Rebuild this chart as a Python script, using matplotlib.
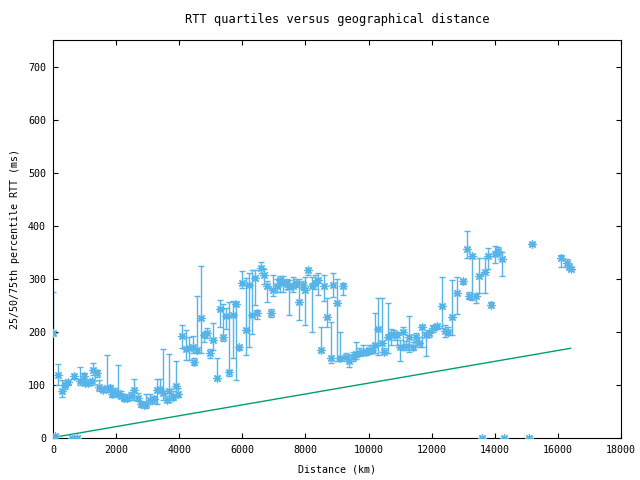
import numpy as np
import matplotlib
matplotlib.use("Agg")
import matplotlib.pyplot as plt

# distance (km), 25th / 50th / 75th percentile RTT (ms)
dist = [0, 60, 170, 275, 380, 485, 590, 675, 770, 855, 990, 1015, 1120, 1225, 1280, 1385,
        1470, 1595, 1700, 1800, 1880, 1965, 2070, 2150, 2250, 2350, 2470, 2570, 2680, 2780,
        2885, 2960, 3075, 3200, 3305, 3390, 3500, 3600, 3690, 3790, 3890, 3975,
        4080, 4215, 4320, 4425, 4480, 4575, 4690, 4800, 4890, 4975, 5080, 5185, 5290, 5400,
        5480, 5590, 5695, 5800, 5905, 5990, 6115, 6200, 6305, 6400, 6475, 6590, 6700, 6790,
        6900, 6985, 7090, 7195, 7300, 7405, 7490, 7595, 7700, 7805, 7915, 7985, 8090, 8200,
        8305, 8410, 8495, 8590, 8695, 8800, 8885, 9010, 9095, 9200, 9285, 9390, 9495, 9600,
        9710, 9815, 9920, 10025, 10110, 10205, 10310, 10415, 10500, 10605, 10700, 10805,
        10910, 11000, 11100, 11185, 11290, 11395, 11500, 11610, 11695, 11820, 11925, 12030,
        12160, 12315, 12420, 12525, 12635, 12815, 13005, 13110, 13195, 13290, 13405, 13510,
        13600, 13690, 13795, 13880, 14005, 14110, 14220, 14290, 15090, 15190, 16100, 16280,
        16350, 16405]
rtt_med = [198, 4, 119, 89, 99, 106, 0, 116, 0, 108, 116, 104, 103, 108, 128, 123,
           96, 90, 94, 94, 83, 87, 85, 80, 75, 75, 79, 90, 76, 64,
           62, 64, 72, 73, 90, 92, 84, 72, 89, 78, 98, 83,
           192, 167, 169, 171, 144, 166, 226, 194, 197, 160, 185, 114, 243, 190,
           230, 125, 232, 253, 171, 292, 204, 289, 232, 301, 236, 320, 308, 287,
           236, 278, 286, 298, 293, 292, 284, 287, 292, 257, 289, 278, 316, 287,
           293, 297, 166, 287, 228, 150, 289, 254, 150, 286, 152, 146, 153, 158,
           161, 163, 163, 165, 166, 175, 205, 179, 163, 190, 196, 194,
           194, 172, 200, 174, 191, 172, 191, 179, 209, 194, 197, 207,
           211, 249, 202, 200, 228, 273, 295, 356, 267, 343, 267, 306,
           0, 312, 343, 251, 347, 353, 337, 0, 0, 366, 339, 330,
           323, 319]
rtt_lo = [195, 2, 99, 77, 93, 100, 0, 112, 0, 100, 100, 100, 100, 100, 119, 115,
          89, 86, 87, 88, 77, 80, 77, 75, 70, 70, 72, 72, 70, 59,
          58, 57, 64, 66, 64, 85, 72, 67, 67, 72, 78, 78,
          170, 147, 147, 160, 138, 160, 160, 180, 188, 150, 165, 109, 210, 182,
          205, 117, 150, 109, 165, 282, 157, 172, 196, 251, 224, 311, 290, 256,
          228, 267, 275, 275, 275, 280, 232, 275, 285, 223, 280, 213, 308, 200,
          280, 270, 163, 258, 210, 141, 265, 145, 145, 270, 145, 133, 145, 148,
          155, 156, 157, 158, 160, 160, 157, 162, 158, 160, 175, 185,
          175, 145, 165, 165, 163, 165, 183, 172, 172, 155, 190, 200,
          205, 207, 190, 195, 194, 234, 290, 339, 262, 260, 255, 273,
          0, 273, 319, 247, 329, 345, 306, 0, 0, 363, 323, 322,
          318, 316]
rtt_hi = [275, 6, 140, 109, 105, 110, 0, 120, 0, 134, 123, 108, 108, 110, 141, 128,
          109, 96, 157, 100, 94, 95, 138, 88, 82, 80, 86, 111, 84, 70,
          67, 83, 82, 80, 111, 111, 168, 80, 158, 88, 145, 95,
          213, 204, 190, 193, 150, 267, 324, 200, 208, 168, 217, 151, 260, 253,
          245, 257, 259, 257, 176, 314, 302, 311, 317, 317, 241, 331, 318, 295,
          244, 308, 300, 305, 305, 300, 298, 304, 300, 300, 296, 304, 320, 304,
          308, 310, 209, 308, 263, 219, 310, 300, 200, 293, 160, 157, 162, 180,
          170, 175, 168, 175, 175, 235, 264, 264, 170, 255, 205, 203,
          200, 185, 210, 182, 229, 180, 198, 190, 213, 200, 203, 212,
          215, 303, 213, 210, 298, 304, 300, 391, 275, 346, 272, 339,
          0, 339, 358, 256, 362, 360, 351, 0, 0, 368, 344, 338,
          330, 322]

# theoretical minimum RTT line
line_dist = [100, 16400]
line_rtt = [2, 169]

blue = "#56b4e9"
green = "#009e73"

plt.rcParams["font.family"] = ["DejaVu Sans Mono"]
plt.rcParams["font.size"] = 7.2

fig = plt.figure(figsize=(6.4, 4.8), dpi=100)
ax = fig.add_axes([53/640, 42/480, 568/640, 398/480])

med = np.array(rtt_med)
yerr = [med - np.array(rtt_lo), np.array(rtt_hi) - med]
ax.errorbar(dist, med, yerr=yerr, fmt="none", ecolor=blue, elinewidth=1.0,
            capsize=2.5, capthick=1.0, zorder=2)
ax.plot(dist, med, linestyle="none", marker=(8, 2, 0), markersize=6,
        markeredgewidth=0.9, color=blue, zorder=3)
ax.plot(line_dist, line_rtt, color=green, lw=1.0, zorder=2)

ax.set_xlim(0, 18000)
ax.set_ylim(0, 750)
ax.set_xticks(range(0, 18001, 2000))
ax.set_yticks(range(0, 701, 100))
ax.tick_params(direction="in", top=True, right=True, length=3.6, width=0.8, pad=5)
for s in ax.spines.values():
    s.set_linewidth(0.8)

ax.set_title("RTT quartiles versus geographical distance", pad=12)
ax.set_xlabel("Distance (km)", labelpad=7)
ax.set_ylabel("25/50/75th percentile RTT (ms)", labelpad=6)

fig.savefig("out.png", dpi=100)
